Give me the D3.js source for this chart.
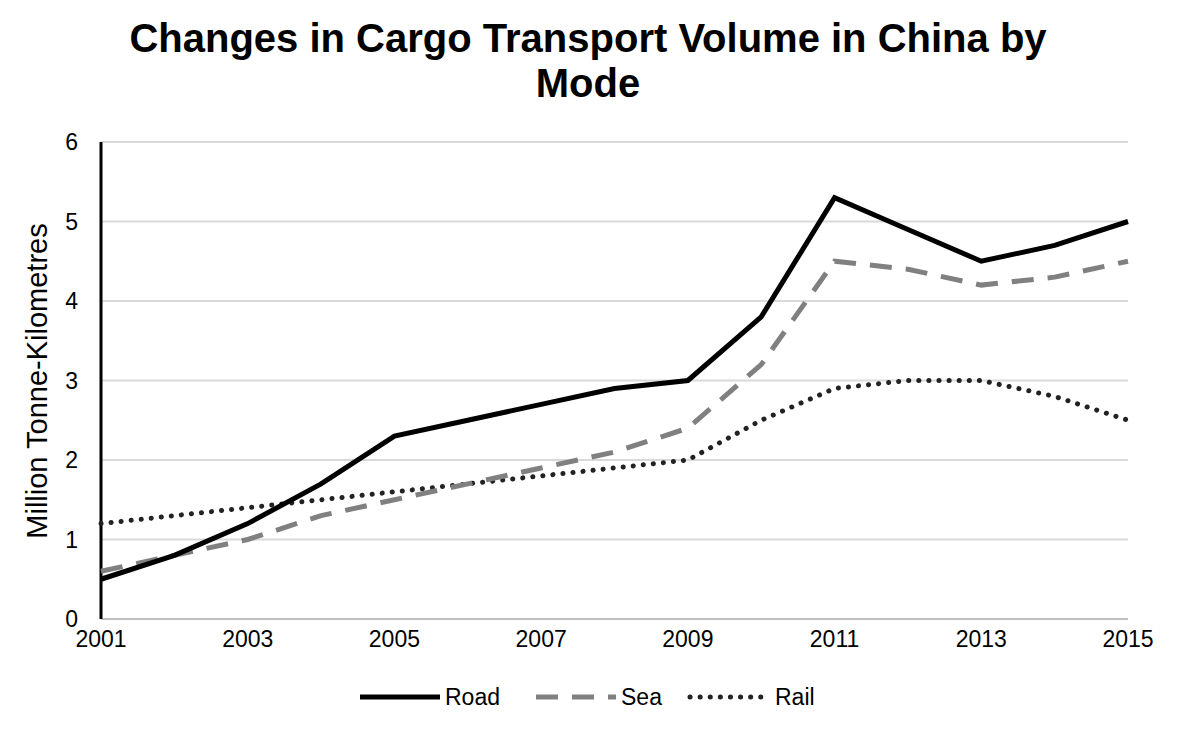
<!DOCTYPE html><html><head><meta charset="utf-8">
<script src="https://cdn.jsdelivr.net/npm/d3@7"></script>
<style>body{margin:0;background:#fff}text{font-family:"Liberation Sans",Arial,sans-serif}</style></head>
<body><svg id="c" width="1194" height="738"></svg>
<script>
const years=[2001,2002,2003,2004,2005,2006,2007,2008,2009,2010,2011,2012,2013,2014,2015];
const road=[0.5,0.8,1.2,1.7,2.3,2.5,2.7,2.9,3.0,3.8,5.3,4.9,4.5,4.7,5.0];
const sea=[0.6,0.8,1.0,1.3,1.5,1.7,1.9,2.1,2.4,3.2,4.5,4.4,4.2,4.3,4.5];
const rail=[1.2,1.3,1.4,1.5,1.6,1.7,1.8,1.9,2.0,2.5,2.9,3.0,3.0,2.8,2.5];
const xTicks=[2001,2003,2005,2007,2009,2011,2013,2015];
const yTicks=[0,1,2,3,4,5,6];
const series=[{name:"Road",v:road,c:"#000",w:5,d:null},{name:"Sea",v:sea,c:"#808080",w:5,d:"22,14"},{name:"Rail",v:rail,c:"#222",w:5,d:"0.1,10"}];
const svg=d3.select("#c");
const x=d3.scaleLinear().domain([2001,2015]).range([101,1128]);
const y=d3.scaleLinear().domain([0,6]).range([619,142]);
svg.append("g").selectAll("line").data(yTicks.slice(1)).join("line").attr("x1",101).attr("x2",1128).attr("y1",d=>y(d)).attr("y2",d=>y(d)).attr("stroke","#d9d9d9").attr("stroke-width",2);
svg.append("line").attr("x1",101).attr("x2",1128).attr("y1",y(0)).attr("y2",y(0)).attr("stroke","#bfbfbf").attr("stroke-width",2);
svg.append("line").attr("x1",101).attr("x2",101).attr("y1",y(6)).attr("y2",y(0)).attr("stroke","#000").attr("stroke-width",3);
svg.append("g").selectAll("text").data(yTicks).join("text").attr("x",78).attr("y",d=>y(d)+8).attr("text-anchor","end").attr("font-size",23).text(d=>d);
svg.append("g").selectAll("text").data(xTicks).join("text").attr("x",d=>x(d)).attr("y",647).attr("text-anchor","middle").attr("font-size",23).text(d=>d);
svg.append("text").attr("transform","translate(47,381) rotate(-90)").attr("text-anchor","middle").attr("font-size",29).text("Million Tonne-Kilometres");
svg.append("text").attr("x",588).attr("y",52).attr("text-anchor","middle").attr("font-size",40).attr("font-weight","bold").text("Changes in Cargo Transport Volume in China by");
svg.append("text").attr("x",588).attr("y",97).attr("text-anchor","middle").attr("font-size",40).attr("font-weight","bold").text("Mode");
const line=d3.line().x((d,i)=>x(years[i])).y(d=>y(d));
[series[2],series[1],series[0]].forEach(s=>{
 svg.append("path").attr("d",line(s.v)).attr("fill","none").attr("stroke",s.c).attr("stroke-width",s.w).attr("stroke-dasharray",s.d).attr("stroke-linecap",s.name=="Rail"?"round":"butt");
});
const lx=[360,536,690];
series.forEach((s,i)=>{
 svg.append("line").attr("x1",lx[i]).attr("x2",lx[i]+80).attr("y1",697).attr("y2",697).attr("stroke",s.c).attr("stroke-width",s.w).attr("stroke-dasharray",s.d).attr("stroke-linecap",s.name=="Rail"?"round":"butt");
 svg.append("text").attr("x",lx[i]+85).attr("y",705).attr("font-size",23).text(s.name);
});
</script></body></html>
